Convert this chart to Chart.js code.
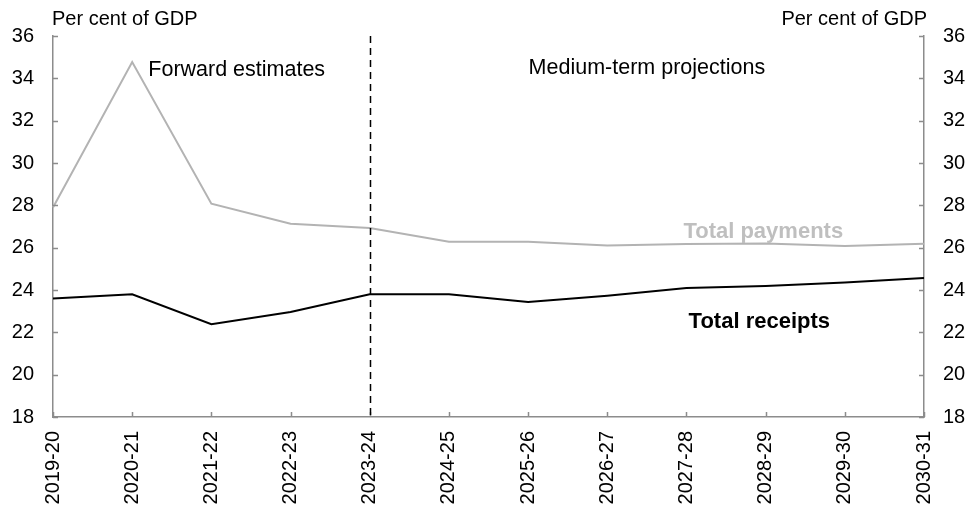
<!DOCTYPE html>
<html>
<head>
<meta charset="utf-8">
<script src="https://cdn.jsdelivr.net/npm/chart.js@4.4.1/dist/chart.umd.min.js"></script>
<style>
  html, body { margin: 0; padding: 0; background: #fff; }
  #wrap { width: 972px; height: 512px; position: relative; }
</style>
</head>
<body>
<div id="wrap"><canvas id="c" width="972" height="512"></canvas></div>
<script>
const categories = ['2019-20','2020-21','2021-22','2022-23','2023-24','2024-25','2025-26','2026-27','2027-28','2028-29','2029-30','2030-31'];
const totalPayments = [27.9, 34.77, 28.08, 27.13, 26.93, 26.28, 26.28, 26.1, 26.17, 26.2, 26.08, 26.19];
const totalReceipts = [23.6, 23.8, 22.38, 22.96, 23.8, 23.8, 23.43, 23.73, 24.1, 24.19, 24.36, 24.57];
const yTicks = [18, 20, 22, 24, 26, 28, 30, 32, 34, 36];
const dividerCategory = '2023-24';
const axisTitle = 'Per cent of GDP';

const FONT = '"Liberation Sans", Arial, sans-serif';
const AXIS_COLOR = '#8c8c8c';

const overlay = {
  id: 'overlay',
  afterDatasetsDraw(chart) {
    const ctx = chart.ctx;
    const x = chart.scales.x, yl = chart.scales.y, yr = chart.scales.y2;
    const area = chart.chartArea;
    ctx.save();
    // inward tick marks
    ctx.strokeStyle = AXIS_COLOR;
    ctx.lineWidth = 1.5;
    ctx.beginPath();
    yTicks.forEach(v => {
      const py = Math.round(yl.getPixelForValue(v)) + 0.5;
      ctx.moveTo(area.left, py); ctx.lineTo(area.left + 5, py);
      const py2 = Math.round(yr.getPixelForValue(v)) + 0.5;
      ctx.moveTo(area.right, py2); ctx.lineTo(area.right - 5, py2);
    });
    categories.forEach((c, i) => {
      const px = Math.round(x.getPixelForValue(i)) + 0.5;
      ctx.moveTo(px, area.bottom); ctx.lineTo(px, area.bottom - 5);
    });
    ctx.stroke();
    // divider
    const dx = Math.round(x.getPixelForValue(categories.indexOf(dividerCategory))) + 0.5;
    ctx.strokeStyle = '#000';
    ctx.lineWidth = 1.5;
    ctx.setLineDash([7, 5]);
    ctx.beginPath();
    ctx.moveTo(dx, area.top); ctx.lineTo(dx, area.bottom);
    ctx.stroke();
    ctx.setLineDash([]);
    // texts
    ctx.textBaseline = 'middle';
    ctx.font = '20px ' + FONT;
    ctx.fillStyle = '#000';
    ctx.textAlign = 'left';
    ctx.fillText(axisTitle, area.left - 1, 19);
    ctx.textAlign = 'right';
    ctx.fillText(axisTitle, area.right + 3, 19);
    ctx.font = '21.5px ' + FONT;
    ctx.textAlign = 'center';
    ctx.fillText('Forward estimates', x.getPixelForValue(2.32), yl.getPixelForValue(34.4));
    ctx.fillText('Medium-term projections', x.getPixelForValue(7.5), yl.getPixelForValue(34.5));
    ctx.font = 'bold 22px ' + FONT;
    ctx.fillStyle = '#bfbfbf';
    ctx.fillText('Total payments', x.getPixelForValue(8.97), yl.getPixelForValue(26.75));
    ctx.fillStyle = '#000';
    ctx.fillText('Total receipts', x.getPixelForValue(8.92), yl.getPixelForValue(22.5));
    ctx.restore();
  }
};

const yScaleCommon = {
  min: 18, max: 36,
  grid: { display: false, drawTicks: false },
  border: { display: true, color: AXIS_COLOR, width: 1.5 },
  ticks: {
    stepSize: 2, color: '#000',
    font: { family: FONT, size: 20 },
  },
};

new Chart(document.getElementById('c'), {
  type: 'line',
  data: {
    labels: categories,
    datasets: [
      { label: 'Total payments', data: totalPayments, borderColor: '#b3b3b3', borderWidth: 2, pointRadius: 0, tension: 0, yAxisID: 'y' },
      { label: 'Total receipts', data: totalReceipts, borderColor: '#000', borderWidth: 2, pointRadius: 0, tension: 0, yAxisID: 'y' },
    ]
  },
  options: {
    responsive: false,
    animation: false,
    events: [],
    layout: { padding: { top: 36, left: 0, right: 0, bottom: 0 } },
    plugins: { legend: { display: false }, tooltip: { enabled: false } },
    scales: {
      x: {
        offset: false,
        grid: { display: false, drawTicks: false },
        border: { display: true, color: AXIS_COLOR, width: 1.5 },
        ticks: { autoSkip: false, minRotation: 90, maxRotation: 90, padding: 14, color: '#000', font: { family: FONT, size: 20 } },
        afterFit(s) { s.height = 95; s.paddingLeft = 0; s.paddingRight = 0; }
      },
      y: Object.assign({}, yScaleCommon, {
        position: 'left',
        ticks: Object.assign({}, yScaleCommon.ticks, { padding: 19 }),
        afterFit(s) { s.width = 53; s.paddingTop = 0; s.paddingBottom = 0; }
      }),
      y2: Object.assign({}, yScaleCommon, {
        position: 'right',
        ticks: Object.assign({}, yScaleCommon.ticks, { padding: 19 }),
        afterFit(s) { s.width = 48; s.paddingTop = 0; s.paddingBottom = 0; }
      }),
    }
  },
  plugins: [overlay]
});
</script>
</body>
</html>
